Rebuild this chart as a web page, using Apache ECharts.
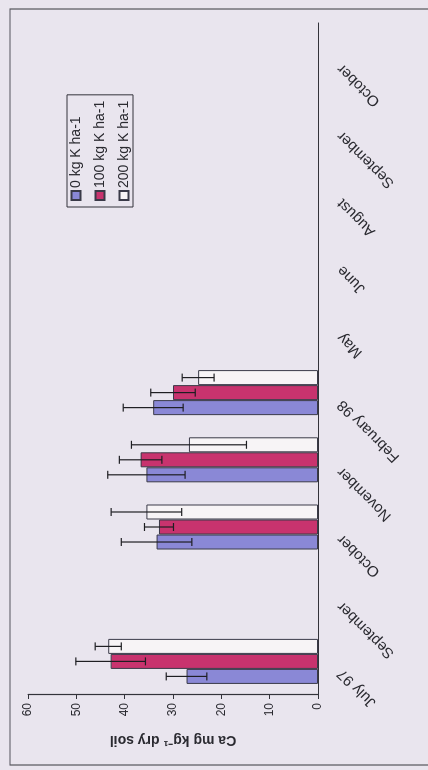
<!DOCTYPE html>
<html>
<head>
<meta charset="utf-8">
<script src="https://cdn.jsdelivr.net/npm/echarts@6/dist/echarts.min.js"></script>
<style>
  html, body { margin: 0; padding: 0; width: 428px; height: 770px; overflow: hidden; background: #e9e5ee; }
  /* chart is drawn upright (770 x 428) and turned a quarter turn left, like the scanned page */
  #chart { position: absolute; left: 0; top: 0; width: 770px; height: 428px;
           transform-origin: 0 0; transform: translate(0, 770px) rotate(-90deg); }
</style>
</head>
<body>
<div id="chart"></div>
<script>
var categories = ['July 97', 'September', 'October', 'November', 'February 98', 'May', 'June', 'August', 'September', 'October'];
var seriesNames = ['0 kg K ha-1', '100 kg K ha-1', '200 kg K ha-1'];

var k0 = [27.2, null, 33.4, 35.5, 34.1, null, null, null, null, null];
var k0Err = [4.2, null, 7.3, 8.0, 6.2, null, null, null, null, null];
var k100 = [42.9, null, 32.9, 36.7, 30.0, null, null, null, null, null];
var k100Err = [7.2, null, 3.0, 4.4, 4.6, null, null, null, null, null];
var k200 = [43.4, null, 35.5, 26.7, 24.8, null, null, null, null, null];
var k200Err = [2.7, null, 7.3, 11.9, 3.3, null, null, null, null, null];

var valueTicks = [0, 10, 20, 30, 40, 50, 60];

var fills = ['#8a88d6', '#c8336e', '#f7f4f6'];
var catGap = 0.33;

function errData(means, errs) {
    var out = [];
    for (var i = 0; i < means.length; i++) {
        if (means[i] != null) out.push([i, means[i], errs[i]]);
    }
    return out;
}

function errRender(idx) {
    return function (params, api) {
        var c = api.value(0), m = api.value(1), e = api.value(2);
        var band = api.size([1, 0])[0];
        var bw = band * (1 - catGap) / 3;
        var lo = api.coord([c, m - e]);
        var hi = api.coord([c, m + e]);
        var x = lo[0] + (idx - 1) * bw;
        var cap = 4;
        var st = { stroke: '#1e1e22', lineWidth: 1.2 };
        return {
            type: 'group',
            children: [
                { type: 'line', shape: { x1: x, y1: lo[1], x2: x, y2: hi[1] }, style: st },
                { type: 'line', shape: { x1: x - cap, y1: lo[1], x2: x + cap, y2: lo[1] }, style: st },
                { type: 'line', shape: { x1: x - cap, y1: hi[1], x2: x + cap, y2: hi[1] }, style: st }
            ]
        };
    };
}

var myChart = echarts.init(document.getElementById('chart'));

myChart.setOption({
    backgroundColor: 'transparent',
    textStyle: { fontFamily: 'Liberation Sans', color: '#2a2a30' },
    graphic: [{
        type: 'rect',
        shape: { x: 5, y: 10, width: 756, height: 440 },
        style: { fill: null, stroke: '#55555c', lineWidth: 1.2 },
        silent: true
    }],
    legend: {
        data: seriesNames,
        icon: 'rect',
        orient: 'vertical',
        left: 563,
        top: 67,
        padding: [2, 6],
        itemGap: 10,
        itemWidth: 9,
        itemHeight: 9,
        borderColor: '#33333a',
        borderWidth: 1,
        textStyle: { fontSize: 14, color: '#2a2a30', padding: [0, 0, 0, -2] }
    },
    grid: { left: 75, right: 23, top: 28, bottom: 110 },
    xAxis: {
        type: 'category',
        data: categories,
        boundaryGap: true,
        axisLine: { lineStyle: { color: '#33333a', width: 1.2 } },
        axisTick: { length: 4, lineStyle: { color: '#33333a' } },
        axisLabel: { rotate: 45, fontSize: 15, margin: 12, padding: [0, 14, 0, 0], color: '#2a2a30', interval: 0 }
    },
    yAxis: {
        type: 'value',
        min: valueTicks[0],
        max: valueTicks[valueTicks.length - 1],
        interval: 10,
        name: 'Ca mg kg\u207B\u00B9 dry soil',
        nameLocation: 'middle',
        nameGap: 38,
        nameTextStyle: { fontSize: 14, fontWeight: 'bold', color: '#2a2a30' },
        axisLine: { show: true, lineStyle: { color: '#33333a', width: 1.2 } },
        axisTick: { show: true, length: 4, lineStyle: { color: '#33333a' } },
        splitLine: { show: false },
        axisLabel: { fontSize: 12, margin: 8, color: '#2a2a30' }
    },
    series: [
        { name: seriesNames[0], type: 'bar', data: k0, barGap: '0%', barCategoryGap: '33%',
          itemStyle: { color: fills[0], borderColor: '#3a3a48', borderWidth: 1 } },
        { name: seriesNames[1], type: 'bar', data: k100, barGap: '0%', barCategoryGap: '33%',
          itemStyle: { color: fills[1], borderColor: '#3a3a48', borderWidth: 1 } },
        { name: seriesNames[2], type: 'bar', data: k200, barGap: '0%', barCategoryGap: '33%',
          itemStyle: { color: fills[2], borderColor: '#3a3a48', borderWidth: 1 } },
        { type: 'custom', renderItem: errRender(0), data: errData(k0, k0Err), z: 5, silent: true },
        { type: 'custom', renderItem: errRender(1), data: errData(k100, k100Err), z: 5, silent: true },
        { type: 'custom', renderItem: errRender(2), data: errData(k200, k200Err), z: 5, silent: true }
    ]
});
</script>
</body>
</html>
